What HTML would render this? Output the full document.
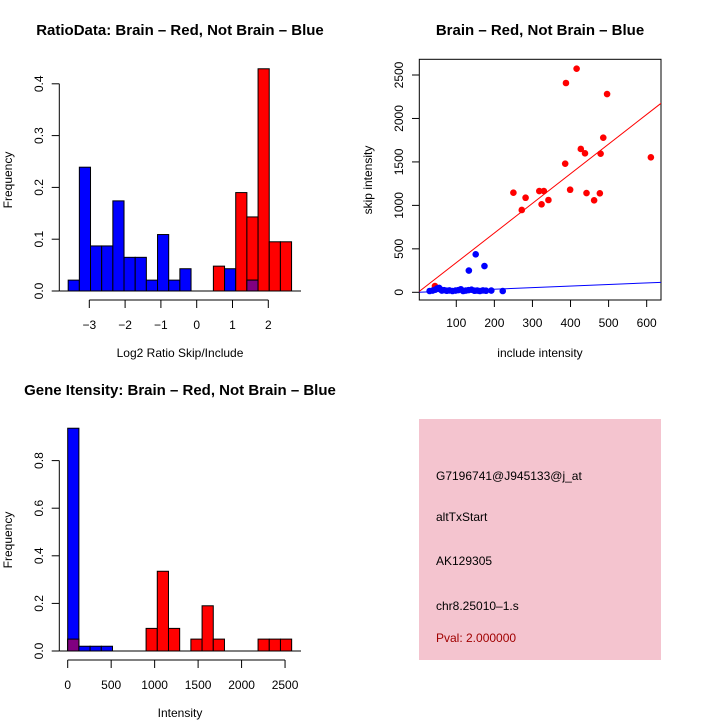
<!DOCTYPE html>
<html><head><meta charset="utf-8"><style>
html,body{margin:0;padding:0;background:#fff;}
svg{display:block;font-family:"Liberation Sans",sans-serif;}
</style></head><body>
<svg id="s" width="720" height="720" viewBox="0 0 720 720" xmlns="http://www.w3.org/2000/svg">
<rect width="720" height="720" fill="#fff"/>
<text x="180" y="35" font-size="15" font-weight="bold" text-anchor="middle">RatioData: Brain – Red, Not Brain – Blue</text>
<text x="540" y="35" font-size="15" font-weight="bold" text-anchor="middle">Brain – Red, Not Brain – Blue</text>
<text x="180" y="395" font-size="15" font-weight="bold" text-anchor="middle">Gene Itensity: Brain – Red, Not Brain – Blue</text>
<text x="180" y="357" font-size="12" text-anchor="middle">Log2 Ratio Skip/Include</text>
<text x="12" y="180" font-size="12" text-anchor="middle" transform="rotate(-90 12 180)">Frequency</text>
<text x="540" y="357" font-size="12" text-anchor="middle">include intensity</text>
<text x="372" y="180" font-size="12" text-anchor="middle" transform="rotate(-90 372 180)">skip intensity</text>
<text x="180" y="717" font-size="12" text-anchor="middle">Intensity</text>
<text x="12" y="540" font-size="12" text-anchor="middle" transform="rotate(-90 12 540)">Frequency</text>
<g>
<rect x="419" y="419" width="242" height="241" fill="#f4c4cf"/>
<text x="436" y="480" font-size="12">G7196741@J945133@j_at</text>
<text x="436" y="521" font-size="12">altTxStart</text>
<text x="436" y="565" font-size="12">AK129305</text>
<text x="436" y="610" font-size="12">chr8.25010–1.s</text>
<text x="436" y="642" font-size="12" fill="#a00000">Pval: 2.000000</text>
</g>
</svg>
<script>
// Ratio histogram data
const ratioStart = -3.59, ratioStep = 0.312;
const ratioBlue = [0.021,0.239,0.087,0.087,0.174,0.065,0.065,0.021,0.109,0.021,0.043,0,0,0,0.043,0,0.021,0,0,0];
const ratioRed  = [0,0,0,0,0,0,0,0,0,0,0,0,0,0.048,0,0.19,0.143,0.429,0.095,0.095];
const ratioXTicks = [-3,-2,-1,0,1,2];
const ratioYTicks = [0,0.1,0.2,0.3,0.4];
// Intensity histogram data
const intStart = 0, intStep = 128.8;
const intBlue = [0.936,0.02,0.02,0.02,0,0,0,0,0,0,0,0,0,0,0,0,0,0,0,0];
const intRed  = [0.05,0,0,0,0,0,0,0.095,0.335,0.095,0,0.05,0.19,0.05,0,0,0,0.05,0.05,0.05];
const intXTicks = [0,500,1000,1500,2000,2500];
const intYTicks = [0,0.2,0.4,0.6,0.8];
// Scatter data
const redX = [44,250,272,282,318,324,330,342,386,388,399,416,427,438,442,462,477,479,486,496,611];
const redY = [72,1146,947,1088,1165,1012,1165,1062,1480,2408,1180,2573,1649,1599,1142,1058,1139,1595,1779,2281,1553];
const blueX = [151,133,174,30,38,45,50,55,58,62,68,75,82,90,98,105,112,118,125,132,140,148,155,162,170,178,192,222];
const blueY = [437,250,302,15,20,30,45,50,35,20,25,18,22,15,20,25,35,15,20,25,30,18,20,15,22,18,20,15];
const redSlope = 3.41, blueSlope = 0.18;
const scXTicks = [100,200,300,400,500,600];
const scYTicks = [0,500,1000,1500,2000,2500];

const svg = document.getElementById('s');
const NS = 'http://www.w3.org/2000/svg';
function mk(tag, attrs, parent){const e=document.createElementNS(NS,tag);for(const k in attrs)e.setAttribute(k,attrs[k]);(parent||svg).appendChild(e);return e;}

function hist(name, start, step, red, blue, xs, ys, xTicks, yTicks, yAxisTop, xAxisY){
  const g = mk('g',{});
  
  
  for(let i=0;i<red.length;i++){
    const x0=xs(start+i*step), x1=xs(start+(i+1)*step);
    const r=red[i], b=blue[i];
    if(r>0){
      const e=mk('rect',{x:x0,y:ys(r),width:x1-x0,height:ys(0)-ys(r),fill:'#ff0000',stroke:'#000','stroke-width':1},g);
      
      
    }
    if(b>0){
      const e=mk('rect',{x:x0,y:ys(b),width:x1-x0,height:ys(0)-ys(b),fill:'#0000ff',stroke:'#000','stroke-width':1},g);
      
      
      if(r>0){
        const m=Math.min(r,b);
        const p=mk('rect',{x:x0,y:ys(m),width:x1-x0,height:ys(0)-ys(m),fill:'#800080',stroke:'#000','stroke-width':1},g);
        
        
      }
    }
  }
  mk('line',{x1:59.3,x2:301,y1:ys(0),y2:ys(0),stroke:'#000'},g);
  mk('line',{x1:59.3,x2:59.3,y1:ys(yTicks[0]),y2:ys(yTicks[yTicks.length-1]),stroke:'#000'},g);
  yTicks.forEach(t=>{
    mk('line',{x1:51.7,x2:59.3,y1:ys(t),y2:ys(t),stroke:'#000'},g);
    const tx=mk('text',{x:43,y:ys(t),'font-size':12,'text-anchor':'middle',transform:`rotate(-90 43 ${ys(t)})`},g);
    tx.textContent=t.toFixed(1);
  });
  mk('line',{x1:xs(xTicks[0]),x2:xs(xTicks[xTicks.length-1]),y1:xAxisY,y2:xAxisY,stroke:'#000'},g);
  xTicks.forEach(t=>{
    mk('line',{x1:xs(t),x2:xs(t),y1:xAxisY,y2:xAxisY+8,stroke:'#000'},g);
    const tx=mk('text',{x:xs(t),y:xAxisY+29,'font-size':12,'text-anchor':'middle'},g);
    tx.textContent=t<0?'\u2212'+(-t):String(t);
  });
}
hist('ratio-histogram', ratioStart, ratioStep, ratioRed, ratioBlue,
  v=>89.3+(v+3)*35.8, v=>291-v*518, ratioXTicks, ratioYTicks, 0, 300);
hist('intensity-histogram', intStart, intStep, intRed, intBlue,
  v=>67.7+v*0.08694, v=>651-v*238, intXTicks, intYTicks, 0, 660);

const sx=v=>418.2+v*0.3808, sy=v=>292.3-v*0.08692;
const sg=mk('g',{});


mk('rect',{x:419.3,y:59.3,width:241.7,height:240.7,fill:'none',stroke:'#000'},sg);
const clip=mk('clipPath',{id:'cp'},sg);mk('rect',{x:419.3,y:59.3,width:241.7,height:240.7},clip);
const pts=mk('g',{'clip-path':'url(#cp)'},sg);
const rl=mk('line',{x1:sx(0),y1:sy(0),x2:sx(650),y2:sy(650*redSlope),stroke:'#ff0000','stroke-width':1},pts);


const bl=mk('line',{x1:sx(0),y1:sy(0),x2:sx(650),y2:sy(650*blueSlope),stroke:'#0000ff','stroke-width':1},pts);


redX.forEach((x,i)=>{
  const c=mk('circle',{cx:sx(x),cy:sy(redY[i]),r:3.3,fill:'#ff0000'},pts);
  
  
});
blueX.forEach((x,i)=>{
  const c=mk('circle',{cx:sx(x),cy:sy(blueY[i]),r:3.3,fill:'#0000ff'},pts);
  
  
});
scXTicks.forEach(t=>{
  mk('line',{x1:sx(t),x2:sx(t),y1:300,y2:307,stroke:'#000'},sg);
  const tx=mk('text',{x:sx(t),y:327,'font-size':12,'text-anchor':'middle'},sg);tx.textContent=t;
});
scYTicks.forEach(t=>{
  mk('line',{x1:412,x2:419.3,y1:sy(t),y2:sy(t),stroke:'#000'},sg);
  const tx=mk('text',{x:403,y:sy(t),'font-size':12,'text-anchor':'middle',transform:`rotate(-90 403 ${sy(t)})`},sg);tx.textContent=t;
});
</script>
</body></html>
